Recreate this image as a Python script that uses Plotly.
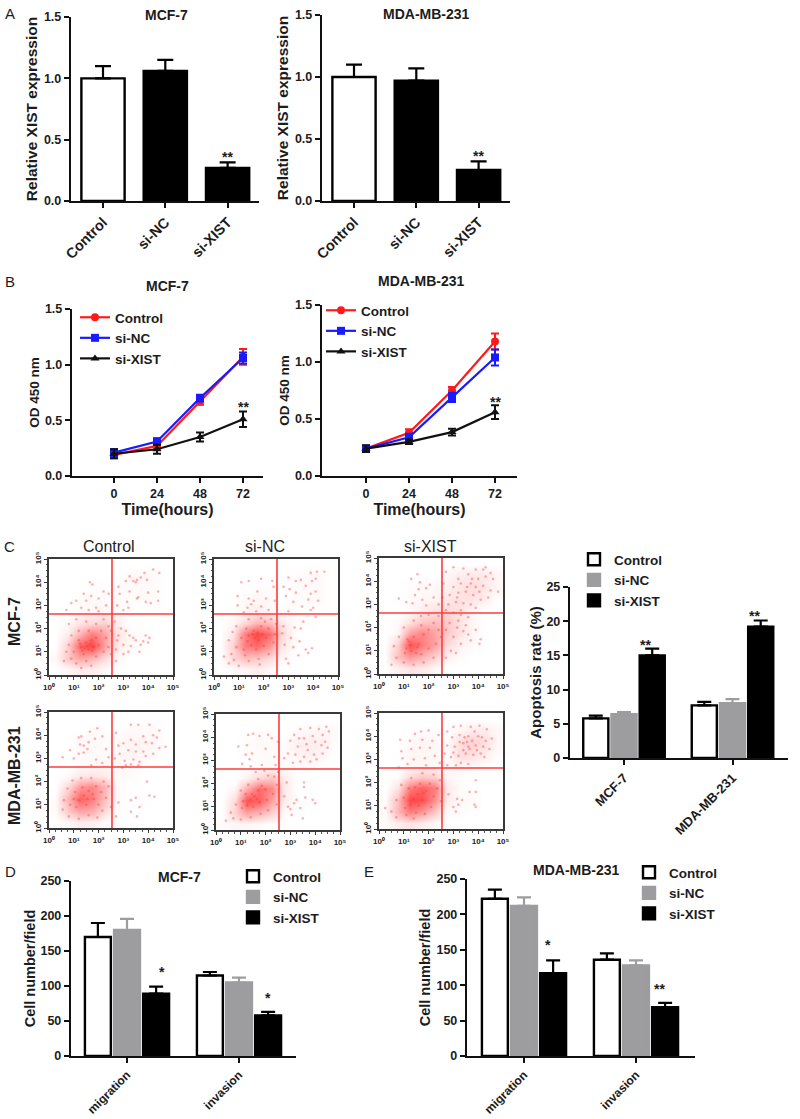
import plotly.graph_objects as go

W, H = 800, 1119
FONT = "Liberation Sans"
INK = "#1c1c1c"
GRAY = "#9d9d9f"

# ---------- Panel A ----------
a_cats = ["Control", "si-NC", "si-XIST"]
a1_vals = [1.0, 1.06, 0.27]
a1_errs = [0.10, 0.09, 0.045]
a2_vals = [1.0, 0.97, 0.25]
a2_errs = [0.10, 0.10, 0.07]
a_ticks = [0.0, 0.5, 1.0, 1.5]

# ---------- Panel B ----------
hours = [0, 24, 48, 72]
b1_control = [0.19, 0.27, 0.67, 1.07]
b1_control_err = [0.03, 0.03, 0.03, 0.07]
b1_nc = [0.21, 0.31, 0.70, 1.06]
b1_nc_err = [0.03, 0.03, 0.03, 0.05]
b1_xist = [0.20, 0.24, 0.35, 0.51]
b1_xist_err = [0.04, 0.04, 0.04, 0.07]
b2_control = [0.24, 0.38, 0.75, 1.18]
b2_control_err = [0.02, 0.03, 0.03, 0.07]
b2_nc = [0.24, 0.34, 0.69, 1.04]
b2_nc_err = [0.02, 0.03, 0.04, 0.07]
b2_xist = [0.24, 0.30, 0.385, 0.56]
b2_xist_err = [0.03, 0.02, 0.03, 0.06]

# ---------- Panel C bars ----------
c_cats = ["MCF-7", "MDA-MB-231"]
c_control = [5.8, 7.7]
c_control_err = [0.4, 0.5]
c_nc = [6.4, 8.0]
c_nc_err = [0.3, 0.6]
c_xist = [15.0, 19.2]
c_xist_err = [1.0, 0.9]

# ---------- Panels D, E ----------
d_cats = ["migration", "invasion"]
d_control = [170, 115]
d_control_err = [20, 5]
d_nc = [180, 105]
d_nc_err = [16, 7]
d_xist = [89, 58]
d_xist_err = [10, 5]
e_control = [222, 136]
e_control_err = [13, 9]
e_nc = [212, 128]
e_nc_err = [12, 7]
e_xist = [117, 69]
e_xist_err = [18, 6]

# ---------- Panel C flow cytometry, log10 units ----------
decade_labels = ["10⁰", "10¹", "10²", "10³", "10⁴", "10⁵"]
cell_centres = [0.25, 0.75, 1.25, 1.75, 2.25, 2.75, 3.25, 3.75, 4.25, 4.75]

dens_1 = [
    [0, .05, .10, .10, .03, 0, 0, 0, 0, 0],
    [.03, .30, .50, .40, .20, .05, 0, 0, 0, 0],
    [0, .25, .85, 1.0, .50, .12, .03, .02, 0, 0],
    [0, .10, .40, .70, .50, .15, .03, .02, 0, 0],
    [0, .03, .15, .20, .25, .10, 0, 0, 0, 0],
    [0, 0, .03, .05, .05, .02, 0, 0, 0, 0],
    [0, 0, .02, .03, .02, .02, .02, .02, .02, 0],
    [0, 0, 0, .02, .02, .02, .03, .03, .02, 0],
    [0, 0, 0, 0, 0, 0, .04, .05, .03, 0],
    [0, 0, 0, 0, 0, 0, 0, 0, 0, 0],
]
dens_2 = [
    [0, .03, .05, .10, .03, 0, 0, 0, 0, 0],
    [0, .20, .35, .30, .20, .05, 0, 0, 0, 0],
    [0, .25, .70, .80, .55, .12, .02, 0, 0, 0],
    [0, .12, .70, 1.0, .80, .20, .02, 0, 0, 0],
    [0, .05, .20, .40, .35, .12, .02, .02, 0, 0],
    [0, 0, .05, .08, .05, .02, .02, 0, 0, 0],
    [0, 0, .03, .05, .03, 0, .02, .02, .03, 0],
    [0, 0, 0, .02, .02, 0, .02, .03, .03, 0],
    [0, 0, 0, 0, 0, 0, .02, .03, .03, 0],
    [0, 0, 0, 0, 0, 0, 0, 0, 0, 0],
]
dens_3 = [
    [0, .08, .15, .12, .05, 0, 0, 0, 0, 0],
    [0, .35, .55, .40, .25, .08, .02, 0, 0, 0],
    [0, .25, .95, .70, .50, .20, .08, .03, 0, 0],
    [0, .05, .50, .65, .50, .30, .15, .05, 0, 0],
    [0, .03, .15, .30, .35, .30, .15, .05, 0, 0],
    [0, 0, .02, .10, .15, .20, .15, .05, 0, 0],
    [0, 0, .02, .04, .05, .12, .15, .15, .10, 0],
    [0, 0, .02, .03, .04, .08, .14, .18, .14, .05],
    [0, 0, 0, 0, 0, .05, .10, .12, .12, .05],
    [0, 0, 0, 0, 0, 0, 0, 0, 0, 0],
]
dens_4 = [
    [0, .05, .10, .10, .02, 0, 0, 0, 0, 0],
    [.02, .30, .50, .45, .20, .02, 0, 0, 0, 0],
    [.02, .40, .85, .70, .35, .03, 0, .02, 0, 0],
    [0, .20, .55, .65, .40, .03, 0, 0, 0, 0],
    [0, .03, .12, .15, .12, .03, .02, 0, 0, 0],
    [0, 0, .02, .03, .03, .03, .03, .02, 0, 0],
    [0, 0, .03, .04, .02, .04, .06, .05, .03, 0],
    [0, 0, .04, .04, .02, .04, .06, .06, .05, 0],
    [0, 0, 0, .02, .02, 0, .03, .03, .03, 0],
    [0, 0, 0, 0, 0, 0, 0, 0, 0, 0],
]
dens_5 = [
    [.02, .05, .05, .03, 0, 0, 0, 0, 0, 0],
    [0, .25, .50, .40, .25, .03, 0, 0, 0, 0],
    [0, .20, .95, .85, .50, .10, .02, .02, 0, 0],
    [0, .05, .45, .80, .65, .12, 0, 0, 0, 0],
    [0, 0, .08, .20, .30, .10, 0, 0, 0, 0],
    [0, 0, 0, .02, .03, .02, .03, .03, 0, 0],
    [0, 0, .02, .02, .02, .02, .06, .08, .06, 0],
    [0, 0, .02, .03, .02, .02, .07, .10, .08, .02],
    [0, 0, 0, .02, .02, 0, .03, .04, .05, .03],
    [0, 0, 0, 0, 0, 0, 0, 0, 0, 0],
]
dens_6 = [
    [.02, .10, .15, .10, .03, 0, 0, 0, 0, 0],
    [.02, .40, .70, .55, .30, .03, .02, 0, 0, 0],
    [.02, .35, 1.0, .95, .60, .10, .03, .03, 0, 0],
    [0, .15, .70, .85, .70, .12, .02, 0, 0, 0],
    [0, .02, .20, .30, .25, .05, .02, 0, 0, 0],
    [0, 0, .03, .05, .03, .03, .08, .05, .02, 0],
    [0, 0, .05, .05, .05, .02, .18, .18, .10, .02],
    [0, 0, .03, .06, .04, .02, .18, .25, .18, .05],
    [0, 0, 0, .02, .02, 0, .05, .10, .10, .05],
    [0, 0, 0, 0, 0, 0, 0, 0, 0, 0],
]

pts_1 = [(3.25, 4.25), (3.5, 4.0), (3.85, 4.4), (4.2, 4.55), (4.45, 4.4), (3.55, 4.1), (3.1, 4.05), (3.4, 4.05), (3.95, 4.1),
         (3.7, 4.2), (2.8, 3.8), (3.25, 3.6), (4.0, 3.55), (4.4, 3.6), (3.15, 3.15), (3.55, 3.3), (3.9, 3.15), (4.1, 3.1),
         (4.4, 3.2), (2.85, 3.5), (3.0, 2.8), (3.2, 2.9), (3.6, 3.35), (2.75, 3.0),
         (1.7, 3.4), (1.4, 3.5), (1.3, 2.9), (0.9, 3.1), (1.9, 2.9), (1.6, 2.8), (2.0, 3.3), (1.75, 3.9), (1.65, 4.0), (2.2, 3.6),
         (2.4, 3.5), (0.7, 2.8), (1.1, 3.2), (2.3, 3.0), (2.0, 2.75), (1.5, 3.2),
         (2.8, 1.7), (3.0, 1.3), (3.2, 1.0), (3.5, 1.5), (3.7, 1.3), (3.9, 1.7), (4.0, 1.4), (4.05, 1.6), (3.4, 1.6), (3.0, 0.9),
         (3.3, 1.25), (2.7, 1.1), (2.9, 2.0), (3.1, 1.9), (2.7, 0.6), (3.65, 1.0), (3.8, 1.45), (3.25, 1.7), (2.65, 2.3), (2.75, 1.5),
         (1.0, 1.0), (1.3, 1.2), (1.5, 1.4), (1.6, 1.1), (1.4, 0.9), (1.7, 1.5), (1.9, 1.6), (1.2, 1.5), (1.8, 1.2), (2.0, 1.3),
         (0.8, 1.3), (0.9, 0.7), (1.1, 0.5), (1.5, 0.6), (1.9, 0.8), (2.2, 1.0), (2.3, 1.6), (2.1, 1.9), (1.6, 1.9), (1.2, 1.9),
         (0.9, 1.7), (0.7, 1.0), (0.6, 0.6), (1.3, 0.3), (1.7, 0.4), (2.4, 1.2), (2.4, 2.1), (2.2, 2.4), (1.9, 2.2), (1.5, 2.3),
         (1.1, 2.4), (0.8, 2.2), (2.5, 1.9), (2.5, 0.9), (1.35, 1.05), (1.55, 1.25), (1.65, 1.35), (1.45, 1.15), (1.25, 1.35), (1.75, 1.05)]
pts_2 = [(3.0, 4.2), (3.3, 4.05), (3.5, 4.1), (3.9, 4.4), (4.15, 4.45), (4.45, 4.45), (4.1, 4.15), (3.95, 4.05), (3.7, 3.85),
         (3.05, 3.7), (3.3, 3.55), (3.9, 3.5), (4.1, 3.6), (4.2, 3.2), (3.8, 3.25), (3.55, 2.95), (3.2, 3.15), (2.8, 3.8), (2.9, 3.4),
         (4.0, 2.9), (3.9, 2.8), (3.0, 2.75),
         (1.1, 4.0), (1.4, 4.05), (1.9, 4.15), (2.35, 4.05), (2.4, 3.8), (1.75, 3.6), (2.1, 3.3), (1.4, 3.3), (0.95, 3.4), (0.95, 3.0),
         (1.35, 2.9), (1.5, 3.05), (1.7, 2.75), (2.2, 2.8), (1.9, 2.95), (1.2, 2.7), (2.45, 3.2), (1.6, 3.2),
         (2.85, 1.3), (3.2, 1.2), (3.4, 0.85), (3.7, 1.1), (3.95, 1.15), (3.1, 1.6), (3.25, 2.05), (3.5, 2.0), (2.8, 2.1), (3.6, 2.3),
         (2.9, 0.7), (2.75, 1.8), (3.0, 0.5), (3.8, 0.95), (4.1, 2.5), (3.45, 1.45),
         (1.4, 1.7), (1.6, 1.9), (1.8, 1.5), (1.5, 1.3), (1.3, 2.0), (1.9, 2.1), (2.1, 1.6), (2.2, 2.0), (1.7, 1.1), (1.2, 1.1),
         (0.9, 1.2), (0.7, 0.9), (0.6, 0.5), (1.0, 0.4), (1.4, 0.6), (1.8, 0.7), (2.2, 0.9), (2.4, 1.4), (2.5, 2.2), (2.3, 2.4),
         (1.9, 2.45), (1.4, 2.4), (0.9, 2.1), (0.6, 1.5), (0.4, 0.8), (1.1, 1.6), (1.65, 1.6), (1.55, 1.75), (1.75, 1.8), (1.95, 1.75),
         (1.35, 1.45), (2.0, 1.25), (2.45, 1.75), (1.25, 0.85), (0.8, 0.65), (0.75, 1.85), (1.85, 0.45), (2.05, 2.3)]
pts_3 = [(3.0, 4.6), (3.4, 4.55), (3.9, 4.5), (4.3, 4.6), (4.5, 4.35), (4.6, 4.1), (4.3, 4.2), (4.0, 4.1), (3.6, 4.3), (3.2, 4.1),
         (2.7, 4.4), (2.6, 3.9), (3.0, 3.75), (3.3, 3.9), (3.7, 3.9), (3.9, 3.75), (4.2, 3.8), (4.5, 3.6), (4.8, 3.55), (4.4, 3.3),
         (4.1, 3.2), (3.8, 3.4), (3.5, 3.55), (3.2, 3.5), (2.85, 3.4), (2.55, 3.3), (2.4, 3.0), (2.8, 3.0), (3.1, 3.1), (3.4, 3.05),
         (3.7, 3.0), (3.9, 2.85), (3.3, 2.75), (3.0, 2.65), (2.7, 2.75), (4.05, 3.55), (3.55, 3.75), (3.15, 3.3), (3.75, 4.1), (4.2, 4.5),
         (1.3, 4.1), (1.55, 4.3), (1.65, 3.95), (1.9, 3.7), (1.6, 3.65), (1.45, 3.4), (2.05, 3.85), (2.2, 3.3), (0.8, 3.25), (1.1, 3.1),
         (1.35, 3.05), (1.9, 2.95), (1.75, 3.2),
         (2.7, 1.9), (3.0, 1.6), (3.2, 2.3), (3.5, 2.1), (3.6, 1.7), (3.9, 1.9), (4.1, 1.5), (4.05, 1.3), (3.3, 1.3), (2.9, 1.0),
         (2.7, 0.7), (3.1, 0.9), (3.4, 1.85), (3.15, 2.0), (2.85, 2.2), (3.7, 1.45), (3.3, 2.55), (3.6, 2.45),
         (1.2, 1.4), (1.4, 1.6), (1.6, 1.3), (1.1, 1.1), (1.3, 1.0), (1.5, 0.9), (1.8, 1.7), (1.7, 2.1), (2.0, 1.9), (2.2, 2.2), (2.4, 1.9),
         (2.3, 1.3), (2.0, 1.1), (2.2, 0.7), (1.8, 0.5), (1.4, 0.4), (1.0, 0.5), (0.7, 0.7), (0.6, 1.2), (0.8, 1.6), (0.5, 0.4), (1.0, 2.0),
         (1.4, 2.3), (1.7, 2.5), (2.0, 2.55), (2.4, 2.5), (1.25, 1.25), (1.15, 1.5), (1.05, 0.9), (1.55, 1.15), (1.7, 0.85), (2.5, 1.6)]
pts_4 = [(2.7, 4.1), (3.3, 4.45), (3.6, 4.45), (4.05, 4.45), (4.45, 4.2), (4.2, 4.0), (3.8, 3.95), (3.3, 3.8), (3.0, 3.65), (2.8, 3.55),
         (3.5, 3.6), (3.9, 3.7), (4.15, 3.65), (4.45, 3.45), (4.7, 3.5), (4.2, 3.2), (3.9, 3.1), (3.5, 3.3), (3.2, 3.35), (2.85, 3.2),
         (2.65, 3.0), (3.05, 2.9), (3.4, 2.95), (3.65, 2.85), (3.8, 3.3), (3.3, 2.75), (3.6, 2.7), (2.95, 2.6), (3.1, 2.7), (4.35, 3.9),
         (1.2, 3.9), (1.3, 3.95), (1.65, 4.15), (1.95, 4.3), (2.15, 3.95), (1.85, 3.85), (1.6, 3.7), (1.4, 3.55), (1.25, 3.6), (1.2, 3.2),
         (1.4, 3.25), (1.55, 3.4), (0.85, 3.35), (0.55, 3.05), (1.0, 3.0), (1.9, 2.95), (2.3, 3.4), (2.4, 3.05), (2.15, 2.8), (1.7, 2.7),
         (3.3, 1.2), (3.5, 1.3), (3.65, 0.9), (3.3, 0.7), (4.05, 1.4), (4.25, 1.35), (3.95, 2.0), (3.55, 0.5), (2.8, 1.1), (2.7, 0.5),
         (1.4, 1.4), (1.6, 1.6), (1.9, 1.8), (2.1, 1.55), (1.2, 1.2), (1.0, 1.25), (1.1, 0.9), (1.5, 1.0), (1.8, 1.25), (2.0, 1.0),
         (2.3, 1.3), (2.5, 0.9), (2.4, 1.8), (2.2, 2.0), (1.7, 2.15), (1.3, 2.15), (0.95, 2.05), (0.75, 1.7), (0.6, 1.2), (0.55, 0.8),
         (0.8, 0.5), (1.2, 0.4), (1.6, 0.55), (1.95, 0.45), (1.35, 1.75), (1.05, 1.55), (0.85, 1.0), (1.55, 1.25), (1.75, 1.45), (2.15, 0.75)]
pts_5 = [(3.15, 4.1), (3.4, 4.35), (3.8, 4.4), (4.15, 4.35), (4.45, 4.45), (4.55, 4.25), (4.3, 4.1), (3.9, 4.05), (3.55, 3.95), (3.0, 3.85),
         (3.3, 3.6), (3.65, 3.7), (4.0, 3.8), (4.25, 3.65), (4.5, 3.55), (4.3, 3.3), (3.95, 3.25), (3.55, 3.15), (3.2, 3.25), (2.9, 3.3),
         (2.75, 3.1), (3.1, 2.9), (3.4, 2.95), (3.8, 2.95), (4.05, 3.05), (3.7, 3.45), (3.35, 3.95), (4.4, 3.8),
         (0.9, 3.6), (1.25, 3.65), (1.3, 4.1), (1.5, 4.15), (1.75, 4.05), (2.1, 4.1), (2.25, 3.95), (2.0, 3.5), (1.2, 3.25), (1.35, 3.05),
         (1.45, 3.3), (1.4, 2.75), (2.35, 3.15), (2.5, 3.8), (2.4, 2.8), (1.05, 2.85), (1.85, 2.8),
         (2.9, 1.0), (3.0, 0.9), (3.15, 1.15), (3.25, 1.3), (3.6, 1.4), (3.4, 0.95), (3.9, 1.3), (4.0, 1.15), (3.55, 2.05), (3.55, 1.85),
         (2.75, 1.45), (2.85, 2.05), (3.05, 0.65), (3.5, 0.5),
         (1.4, 1.3), (1.55, 1.45), (1.7, 1.7), (1.85, 1.9), (2.0, 1.75), (1.25, 1.05), (1.05, 0.95), (1.2, 1.55), (1.5, 1.0), (1.75, 1.2), (2.05, 1.3),
         (2.3, 1.55), (2.45, 1.95), (2.35, 2.3), (2.1, 2.35), (1.7, 2.2), (1.3, 1.95), (1.0, 1.7), (0.8, 1.1), (0.6, 0.75), (0.4, 0.4), (0.7, 0.5),
         (1.0, 0.45), (1.4, 0.55), (1.8, 0.7), (2.1, 0.85), (2.45, 1.1), (1.6, 2.5), (1.95, 2.55), (2.5, 2.5), (1.45, 1.55), (1.65, 1.35), (1.1, 1.25)]
pts_6 = [(2.75, 4.2), (3.0, 4.4), (3.3, 4.45), (3.7, 4.4), (4.05, 4.45), (4.35, 4.3), (4.55, 3.9), (4.3, 3.8), (4.0, 4.0), (3.6, 4.0),
         (3.25, 4.05), (2.95, 3.95), (2.75, 3.6), (3.05, 3.55), (3.4, 3.7), (3.6, 3.55), (3.9, 3.6), (4.2, 3.55), (4.45, 3.45), (4.1, 3.25),
         (3.8, 3.2), (3.5, 3.25), (3.2, 3.15), (2.9, 3.1), (2.65, 3.25), (3.3, 2.85), (3.6, 2.8), (3.1, 2.75), (2.75, 2.75), (3.4, 3.4),
         (3.45, 3.95), (3.55, 3.75), (3.75, 3.8), (3.25, 3.75), (3.85, 4.2), (4.15, 3.95), (3.65, 3.45), (3.0, 3.3), (3.95, 3.4), (4.25, 3.1),
         (0.85, 3.85), (1.25, 3.8), (1.45, 4.1), (1.7, 4.2), (2.0, 4.25), (1.75, 3.85), (2.15, 3.8), (2.4, 4.05), (2.05, 3.5), (1.65, 3.5),
         (1.3, 3.45), (0.9, 3.35), (0.95, 3.05), (1.15, 2.8), (1.4, 3.0), (1.85, 3.05), (2.25, 3.15), (2.45, 2.85), (0.8, 2.65), (1.9, 2.75),
         (3.0, 0.95), (3.2, 1.05), (3.35, 1.25), (3.15, 1.3), (3.65, 1.6), (3.9, 1.6), (3.85, 1.05), (3.1, 0.75), (3.9, 0.95), (2.8, 1.5), (3.9, 2.1),
         (1.4, 1.3), (1.55, 1.5), (1.75, 1.25), (1.9, 1.65), (1.25, 1.05), (1.6, 1.0), (1.0, 1.35), (1.2, 1.75), (1.65, 1.95), (2.05, 1.95),
         (2.2, 1.4), (2.35, 1.75), (2.45, 2.1), (2.2, 2.35), (1.75, 2.4), (1.3, 2.2), (0.9, 1.9), (0.7, 1.25), (0.5, 0.75), (0.25, 0.9),
         (0.7, 0.5), (1.1, 0.6), (1.4, 0.45), (1.85, 0.65), (2.1, 0.95), (2.5, 1.2), (1.45, 1.8), (1.8, 1.55), (1.05, 0.9), (1.5, 0.7)]

gate_x = 2.54
gate_y = 2.63

flow_titles = ["Control", "si-NC", "si-XIST"]
flow_rows = ["MCF-7", "MDA-MB-231"]

fig = go.Figure()
layout = {}
annots = []
shapes = []


def fx(p):
    return p / W


def fy(p):
    return 1 - p / H


def set_axes(n, left, right, bottom, top, xopts, yopts):
    s = "" if n == 1 else str(n)
    layout["xaxis" + s] = dict(domain=[fx(left), fx(right)], anchor="y" + s, **xopts)
    layout["yaxis" + s] = dict(domain=[fy(bottom), fy(top)], anchor="x" + s, **yopts)
    return "x" + s, "y" + s


tfont = dict(family=FONT, size=12.5, color=INK, weight=700)


def base_axis():
    return dict(showline=True, linewidth=2.4, linecolor="#111", ticks="outside", ticklen=5, tickwidth=2,
                tickcolor="#111", showgrid=False, zeroline=False, tickfont=tfont, fixedrange=True)


def y_axis(rng, ticks, labels, title, standoff, size=13):
    d = base_axis()
    d.update(range=rng, tickvals=ticks, ticktext=labels,
             title=dict(text=title, standoff=standoff, font=dict(family=FONT, size=size, color=INK, weight=700)))
    return d


def text(x, y, s, size=13, weight=700, angle=0, xref="paper", yref="paper", color=INK, xanchor="center", yanchor="middle"):
    annots.append(dict(x=x, y=y, text=s, xref=xref, yref=yref, showarrow=False, textangle=angle, xanchor=xanchor, yanchor=yanchor,
                       font=dict(family=FONT, size=size, color=color, weight=weight)))


def bar(xa, ya, cats, vals, errs, name, fill, line, legend=None, ew=7):
    fig.add_trace(go.Bar(x=cats, y=vals, name=name, xaxis=xa, yaxis=ya,
                         marker=dict(color=fill, line=dict(color=line, width=2.4)),
                         error_y=dict(type="data", symmetric=False, array=errs, arrayminus=[0] * len(errs),
                                      color=line, thickness=2.2, width=ew),
                         legend=legend or "legend", showlegend=legend is not None, hoverinfo="skip"))


# ----- A -----
for n, (left, right, top, cx, vals, errs, star) in enumerate([
    (71, 259, 17, 103, a1_vals, a1_errs, 0.36),
    (322, 510, 15, 354, a2_vals, a2_errs, 0.36),
], start=1):
    xd = base_axis()
    xd.update(type="category", categoryorder="array", categoryarray=a_cats, tickangle=-45,
              range=[(left - cx) / 62.3, (right - cx) / 62.3],
              tickfont=dict(family=FONT, size=14.5, color=INK, weight=700))
    yd = y_axis([0, 1.5], a_ticks, ["%.1f" % t for t in a_ticks], "Relative XIST expression", 2, 15.5)
    xa, ya = set_axes(n, left, right, 201, top, xd, yd)
    bar(xa, ya, a_cats, vals, errs, "Relative XIST expression", ["white", "black", "black"], "black", ew=8)
    text("si-XIST", star, "**", 14, xref=xa, yref=ya)

text(fx(166), fy(15), "MCF-7", 14)
text(fx(427), fy(14), "MDA-MB-231", 14)
text(fx(10), fy(14), "A", 15, 400)

# ----- B -----
b_sets = [
    (3, 72, 263, 309, 114, 0.624, "legend", [(b1_control, b1_control_err), (b1_nc, b1_nc_err), (b1_xist, b1_xist_err)]),
    (4, 322, 517, 305, 366, 0.653, "legend2", [(b2_control, b2_control_err), (b2_nc, b2_nc_err), (b2_xist, b2_xist_err)]),
]
styles = [("Control", "#ff1a1a", "circle"), ("si-NC", "#1a1aff", "square"), ("si-XIST", "#111111", "triangle-up")]
for n, left, right, top, x0, star, leg, series in b_sets:
    unit = 43.0 / 24
    xd = base_axis()
    xd.update(range=[(left - x0) / unit, (right - x0) / unit], tickvals=hours,
              title=dict(text="Time(hours)", standoff=4, font=dict(family=FONT, size=16, color=INK, weight=700)))
    yd = y_axis([0, 1.5], a_ticks, ["%.1f" % t for t in a_ticks], "OD 450 nm", 2, 13.5)
    xa, ya = set_axes(n, left, right, 476, top, xd, yd)
    for (vals, errs), (name, col, sym) in zip(series, styles):
        fig.add_trace(go.Scatter(x=hours, y=vals, name=name, xaxis=xa, yaxis=ya, mode="lines+markers",
                                 line=dict(color=col, width=2.2), marker=dict(color=col, symbol=sym, size=8),
                                 error_y=dict(type="data", array=errs, color=col, thickness=2, width=4),
                                 legend=leg, hoverinfo="skip"))
    text(72, star, "**", 14, xref=xa, yref=ya)

text(fx(167), fy(286), "MCF-7", 14)
text(fx(421), fy(281), "MDA-MB-231", 14)
text(fx(10), fy(282), "B", 15, 400)

# ----- C flow -----
flow_boxes = [
    (5, 49, 173, 675, 559, dens_1, pts_1),
    (6, 214, 338, 675, 559, dens_2, pts_2),
    (7, 379, 503, 674, 558, dens_3, pts_3),
    (8, 49, 173, 828, 712, dens_4, pts_4),
    (9, 216, 340, 830, 714, dens_5, pts_5),
    (10, 379, 503, 829, 713, dens_6, pts_6),
]
for n, left, right, bottom, top, dens, pts in flow_boxes:
    common = dict(range=[0, 5], tickvals=list(range(6)), ticktext=decade_labels, showline=True, mirror=True, linewidth=2,
                  linecolor="#3a3a3a", ticks="outside", ticklen=3, tickwidth=1.2, tickcolor="#3a3a3a", showgrid=False,
                  zeroline=False, fixedrange=True, tickfont=dict(family=FONT, size=8, color=INK, weight=700),
                  minor=dict(dtick=0.25, ticks="outside", ticklen=1.5, tickcolor="#555", tickwidth=1))
    xd = dict(common, tickangle=0)
    yd = dict(common, tickangle=-90)
    xa, ya = set_axes(n, left, right, bottom, top, xd, yd)
    fig.add_trace(go.Heatmap(x=cell_centres, y=cell_centres, z=dens, xaxis=xa, yaxis=ya, zmin=0, zmax=1, zsmooth="best",
                             colorscale=[[0, "white"], [1, "rgb(255,70,70)"]], showscale=False, hoverinfo="skip"))
    fig.add_trace(go.Scatter(x=[p[0] for p in pts], y=[p[1] for p in pts], xaxis=xa, yaxis=ya, mode="markers",
                             marker=dict(color="rgba(255,50,50,0.38)", size=2.6), showlegend=False, hoverinfo="skip"))
    shapes.append(dict(type="line", xref=xa, yref=ya, x0=gate_x, x1=gate_x, y0=0, y1=5, line=dict(color="#ff3b3b", width=1.6)))
    shapes.append(dict(type="line", xref=xa, yref=ya, x0=0, x1=5, y0=gate_y, y1=gate_y, line=dict(color="#ff3b3b", width=1.6)))

for px, t in zip([109, 265, 430], flow_titles):
    text(fx(px), fy(546), t, 16, 400)
text(fx(14), fy(622), flow_rows[0], 16, 700, -90)
text(fx(14), fy(776), flow_rows[1], 16, 700, -90)
text(fx(9), fy(546), "C", 15, 400)


# ----- grouped bars C, D, E -----
def grouped(n, left, right, bottom, top, x0, spacing, cats, ymax, ticks, title, standoff, tsize, groups, stars, leg, lab):
    xd = base_axis()
    xd.update(type="category", categoryorder="array", categoryarray=cats, tickangle=-45,
              range=[(left - x0) / spacing, (right - x0) / spacing],
              tickfont=dict(family=FONT, size=lab, color=INK, weight=700))
    yd = y_axis([0, ymax], ticks, [str(t) for t in ticks], title, standoff, tsize)
    xa, ya = set_axes(n, left, right, bottom, top, xd, yd)
    fills = [("Control", "white", "black"), ("si-NC", GRAY, GRAY), ("si-XIST", "black", "black")]
    for (vals, errs), (name, fill, line) in zip(groups, fills):
        bar(xa, ya, cats, vals, errs, name, fill, line, legend=leg)
    for cat, off, sval, s in stars:
        annots.append(dict(x=(x0 + cats.index(cat) * spacing + off) / W, y=fy(bottom) + sval * (fy(top) - fy(bottom)) / ymax,
                           xref="paper", yref="paper", text=s, showarrow=False,
                           font=dict(family=FONT, size=14, color=INK, weight=700)))


layout["barmode"] = "group"
layout["bargap"] = 0.22
layout["bargroupgap"] = 0.11

grouped(11, 570, 788, 758, 587, 624, 108.5, c_cats, 25, [0, 5, 10, 15, 20, 25], "Apoptosis rate (%)", 1, 15,
        [(c_control, c_control_err), (c_nc, c_nc_err), (c_xist, c_xist_err)],
        [("MCF-7", 29, 16.5, "**"), ("MDA-MB-231", 29, 20.7, "**")], "legend3", 13)
grouped(12, 71, 296, 1056, 881, 127, 112, d_cats, 250, [0, 50, 100, 150, 200, 250], "Cell number/field", 1, 14.5,
        [(d_control, d_control_err), (d_nc, d_nc_err), (d_xist, d_xist_err)],
        [("migration", 30, 106, "*"), ("invasion", 29, 68, "*")], "legend4", 12)
grouped(13, 467, 695, 1056, 879, 524, 112, d_cats, 250, [0, 50, 100, 150, 200, 250], "Cell number/field", 2, 14.5,
        [(e_control, e_control_err), (e_nc, e_nc_err), (e_xist, e_xist_err)],
        [("migration", 29, 142, "*"), ("invasion", 31, 81, "**")], "legend5", 12)

text(fx(179), fy(877), "MCF-7", 14)
text(fx(576), fy(870), "MDA-MB-231", 14)
text(fx(10), fy(871), "D", 15, 400)
text(fx(369), fy(871), "E", 15, 400)

# ----- legends -----
leg_font = dict(family=FONT, size=13.5, color=INK, weight=700)


def legend_at(x, top):
    return dict(x=fx(x), y=fy(top), xanchor="left", yanchor="top", bgcolor="rgba(0,0,0,0)", font=leg_font, itemwidth=30,
                itemclick=False, itemdoubleclick=False, tracegroupgap=0, borderwidth=0)


layout["legend"] = legend_at(75, 302)
layout["legend2"] = legend_at(321, 295)
layout["legend3"] = legend_at(574, 544)
layout["legend4"] = legend_at(233, 861)
layout["legend5"] = legend_at(629, 857)

fig.update_layout(width=W, height=H, margin=dict(l=0, r=0, t=0, b=0, autoexpand=False), paper_bgcolor="white", plot_bgcolor="white",
                  annotations=annots, shapes=shapes, hovermode=False, **layout)
fig.write_html("out.html", config={"displayModeBar": False}, post_script="document.body.style.margin='0';")
